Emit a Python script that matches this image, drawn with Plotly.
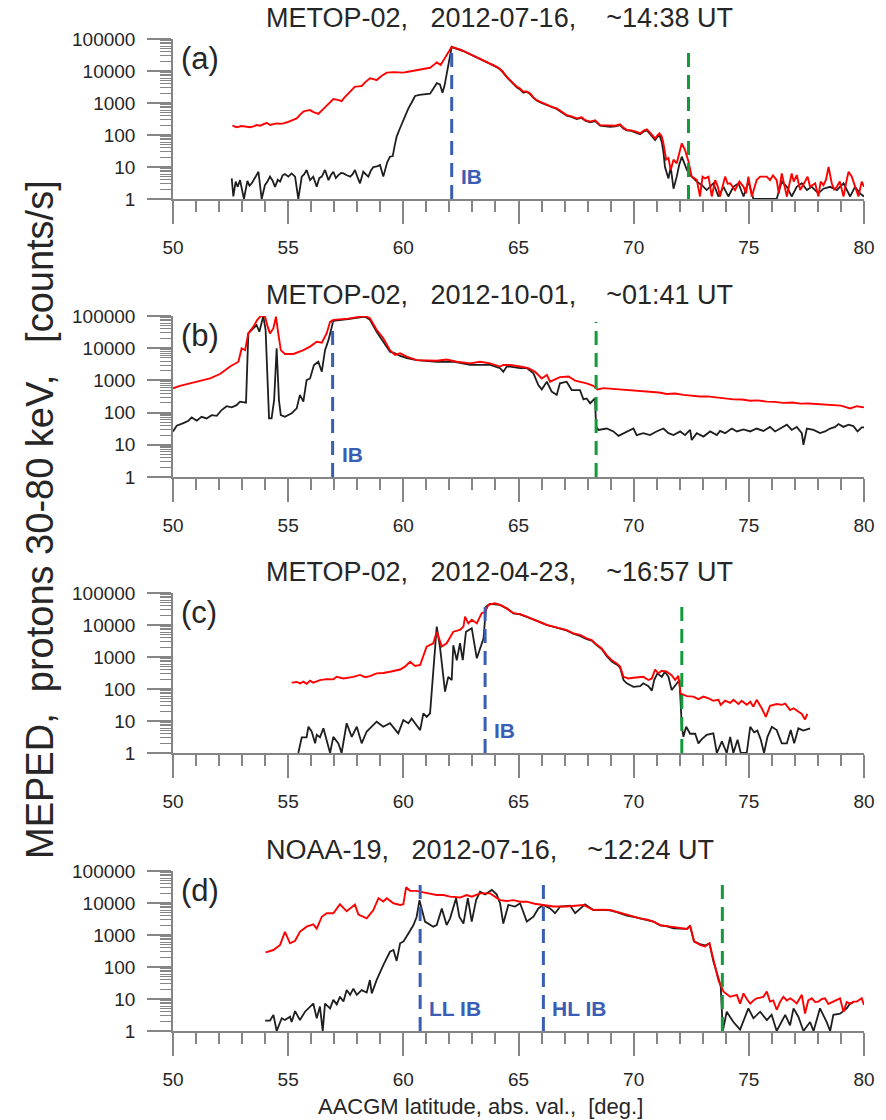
import plotly.graph_objects as go

# ---------------- Panel (a): METOP-02, 2012-07-16, ~14:38 UT ----------------
a_red_lat = [52.58, 52.76, 52.98, 53.15, 53.34, 53.5, 53.63, 53.78, 53.92, 54.07, 54.21, 54.35, 54.5, 54.65, 54.79, 54.95,
             55.08, 55.22, 55.37, 55.5, 55.66, 55.8, 55.95, 56.1, 56.31, 56.5, 56.67, 56.8, 56.96, 57.15, 57.32, 57.45,
             57.61, 57.75, 57.9, 58.05, 58.19, 58.35, 58.55, 58.7, 58.84, 59.05, 59.28, 59.6, 60.0, 60.2, 60.44, 60.65,
             60.87, 61.0, 61.16, 61.3, 61.45, 61.62, 61.81, 61.95, 62.1,
             62.17, 62.3, 62.45, 62.6, 62.75, 62.9, 63.1, 63.33, 63.55, 63.77, 63.95, 64.13, 64.3, 64.5, 64.65, 64.78,
             64.92, 65.05, 65.21, 65.35, 65.5, 65.65, 65.79, 66.0, 66.23, 66.45, 66.66, 66.9, 67.09, 67.3, 67.53, 67.74,
             67.9, 68.11, 68.33, 68.54, 68.75, 68.98, 69.2, 69.41, 69.55, 69.7, 69.9, 70.13, 70.28, 70.45, 70.57, 70.7,
             70.79, 70.93, 71.02, 71.12, 71.22, 71.29, 71.41, 71.51, 71.61, 71.73, 71.87, 71.98, 72.09, 72.23, 72.38,
             72.52, 72.63, 72.74, 72.88, 72.99, 73.1, 73.25, 73.39, 73.54, 73.65, 73.75, 73.97, 74.08, 74.19, 74.4,
             74.59, 74.77, 74.88, 74.98, 75.13, 75.34, 75.49, 75.6, 75.78, 75.92, 76.05, 76.21, 76.3, 76.43, 76.65,
             76.86, 76.95, 77.08, 77.23, 77.44, 77.55, 77.66, 77.88, 78.02, 78.12, 78.24, 78.35, 78.46, 78.6, 78.7,
             78.82, 78.95, 79.11, 79.25, 79.33, 79.47, 79.61, 79.76, 79.9, 80.0]
a_red = [195, 175, 190, 180, 175, 185, 205, 195, 215, 240, 205, 220, 230, 225, 230, 250,
         275, 300, 330, 420, 540, 580, 600, 520, 460, 620, 810, 1050, 1320, 1250, 1150, 1500,
         2000, 2600, 3240, 3300, 3400, 4500, 5900, 5600, 5200, 7000, 8900, 9200, 8900, 9500, 10200, 10800,
         11500, 12000, 12600, 15000, 18600, 15500, 25000, 38000, 57000,
         55000, 52000, 47000, 42700, 38000, 33900, 29000, 25100, 21000, 17400, 14800, 12600, 9800, 6500, 5000, 4070,
         3240, 2900, 2240, 2300, 2000, 1500, 1230, 1050, 870, 760, 676, 520, 417, 380, 331, 355,
         290, 263, 290, 204, 200, 190, 195, 214, 170, 145, 140, 126, 112, 140, 151, 120,
         100, 78, 95, 112, 90, 55, 17, 19, 8, 17, 13, 30, 55, 34, 15,
         5, 4.5, 4, 1.2, 5, 4.4, 5, 1.2, 3.9, 2.5, 1.2, 5, 3, 3.1, 1.9,
         3.5, 2.4, 1.5, 5, 1.2, 3.9, 5, 5, 5, 3.9, 5.5, 3.9, 1.5, 6.3, 1.2,
         6.3, 3.5, 5.6, 1.9, 3.5, 5, 2.4, 3.1, 1.2, 3.5, 2.7, 4, 10, 3.1, 2,
         2.4, 3.5, 1.2, 4, 7.1, 5, 2.4, 1.2, 3.5, 2.4]

a_blk_lat = [52.55, 52.62, 52.72, 52.81, 52.91, 53.0, 53.08, 53.23, 53.32, 53.42, 53.55, 53.71, 53.85, 53.99, 54.1,
             54.21, 54.32, 54.43, 54.55, 54.65, 54.76, 54.86, 55.01, 55.15, 55.3, 55.44, 55.59, 55.7, 55.8, 55.95,
             56.09, 56.24, 56.35, 56.46, 56.6, 56.75, 56.85, 56.96, 57.07, 57.18, 57.3, 57.4, 57.55, 57.69, 57.8,
             57.9, 58.0, 58.12, 58.26, 58.38, 58.48, 58.6, 58.7, 58.85, 58.99, 59.13, 59.3, 59.42, 59.54, 59.62,
             59.71, 59.85, 60.0, 60.1, 60.22, 60.35, 60.51, 60.7, 60.87, 61.0, 61.16, 61.3, 61.45, 61.59, 61.7,
             61.79, 61.88, 62.0, 62.1,
             62.17, 62.3, 62.45, 62.6, 62.75, 62.9, 63.1, 63.33, 63.55, 63.77, 63.95, 64.13, 64.3, 64.5, 64.65,
             64.78, 64.92, 65.05, 65.21, 65.35, 65.5, 65.65, 65.79, 66.0, 66.23, 66.45, 66.66, 66.9, 67.09, 67.3,
             67.53, 67.74, 67.9, 68.11, 68.33, 68.54, 68.75, 68.98, 69.2, 69.41, 69.55, 69.7, 69.9, 70.13, 70.28,
             70.45, 70.57, 70.7, 70.79, 70.93, 71.02, 71.12, 71.22, 71.29, 71.36, 71.45, 71.51, 71.61, 71.73, 71.87,
             71.98, 72.09, 72.2, 72.31, 72.42, 72.52, 72.74, 72.96, 73.17, 73.46, 73.68, 73.9, 74.11, 74.33, 74.55,
             74.77, 74.98, 75.2, 75.5, 75.8, 76.21, 76.43, 76.65, 76.86, 77.08, 77.3, 77.52, 77.73, 78.02, 78.24,
             78.53, 78.82, 79.11, 79.4, 79.61, 79.83, 80.0]
a_blk = [4.4, 1.2, 3.5, 2.4, 3.9, 2, 1, 3.7, 2.6, 3.1, 4.5, 7.1, 1, 2.7, 3.5,
         5, 3.8, 2.4, 4, 3.5, 5.5, 6, 5, 6.3, 5, 1, 5, 6, 8.1, 3.9,
         5, 2.4, 4.5, 5, 8.1, 3.9, 5.5, 7.1, 4.5, 5.6, 6.5, 6.3, 5.5, 5, 6,
         8.1, 5, 3.1, 7.1, 6, 5, 8, 10, 10.5, 11.5, 5, 14, 21, 22, 45,
         89, 160, 295, 450, 680, 1000, 1660, 1800, 1860, 1850, 1950, 2800, 4170, 3800, 2090,
         3500, 8500, 25000, 57000,
         54000, 51000, 46000, 42000, 37500, 33000, 28500, 24500, 20500, 17000, 14500, 12300, 9500, 6300, 4800,
         3900, 3100, 2700, 2100, 2250, 1900, 1450, 1200, 1000, 850, 730, 650, 500, 400, 370,
         315, 340, 280, 250, 270, 195, 190, 180, 185, 205, 160, 140, 135, 118, 105,
         130, 140, 110, 90, 70, 85, 100, 60, 30, 10, 6, 4.4, 10, 2.1, 5,
         12, 21, 12, 8.1, 6, 5, 3.5, 2.7, 1.9, 3.1, 1.2, 2.4, 1.2, 2.4, 3.1,
         1.2, 3.5, 1, 1, 1, 1, 3.5, 2.4, 1.2, 2.4, 3.1, 1.9, 2.4, 1.5, 2.1,
         2.4, 1.9, 3.1, 1.2, 2.4, 1.5, 1.2]

# ---------------- Panel (b): METOP-02, 2012-10-01, ~01:41 UT ----------------
b_red_lat = [50.0, 50.3, 50.74, 51.17, 51.61, 52.04, 52.48, 52.84, 52.98, 53.13, 53.27, 53.49, 53.66, 53.81, 53.99,
             54.11, 54.21, 54.36, 54.47, 54.57, 54.68, 54.86, 55.23, 55.66, 55.95, 56.24, 56.46, 56.67, 56.82, 56.96,
             57.6, 58.34, 58.55, 58.84, 59.13, 59.42, 59.64, 59.86, 60.15, 60.58, 61.02, 61.45, 61.88, 62.32, 62.9,
             63.33, 63.77, 64.2, 64.34, 64.63, 65.07, 65.43, 65.72, 66.01, 66.23, 66.37, 66.8, 67.17, 67.46, 67.96,
             68.25, 68.43, 68.69, 69.0, 69.27, 69.6, 69.99, 70.4, 70.71, 71.1, 71.44, 71.8, 72.16, 72.5, 72.88,
             73.2, 73.61, 74.0, 74.33, 74.7, 75.06, 75.4, 75.78, 76.1, 76.5, 76.9, 77.23, 77.6, 77.95, 78.3,
             78.67, 79.0, 79.4, 79.69, 80.0]
b_red = [565, 680, 810, 980, 1150, 1580, 2700, 3800, 9800, 8700, 28800, 46800, 75900, 100000, 100000,
         46800, 28800, 41700, 95500, 28800, 8700, 6600, 6600, 8700, 11200, 15800, 14800, 28800, 66100, 75900,
         83000, 100000, 85000, 37200, 20400, 8700, 6170, 6900, 5500, 4270, 4270, 4070, 4470, 3800, 3390,
         3800, 3390, 2690, 3020, 3020, 2690, 2400, 1860, 1150, 1480, 910, 1260, 1320, 980, 810,
         680, 525, 575, 550, 525, 500, 480, 470, 450, 420, 380, 390, 355, 340, 316,
         320, 295, 285, 257, 255, 234, 240, 219, 215, 200, 205, 190, 192, 186, 180,
         174, 165, 135, 158, 145]

b_blk_lat = [50.0, 50.16, 50.45, 50.67, 50.81, 51.03, 51.24, 51.46, 51.68, 51.9, 52.11, 52.33, 52.55, 52.76, 52.91,
             53.17, 53.27, 53.49, 53.63, 53.75, 53.92, 54.02, 54.17, 54.28, 54.39, 54.5, 54.6, 54.68, 54.86, 55.15,
             55.37, 55.51, 55.66, 55.8, 55.95, 56.12, 56.31, 56.46, 56.6, 56.75, 56.96, 57.6, 58.34, 58.55, 58.84,
             59.13, 59.42, 59.64, 59.86, 60.15, 60.58, 61.45, 62.17, 62.9, 63.77, 64.2, 64.34, 64.49, 64.63, 65.07,
             65.36, 65.65, 65.86, 66.01, 66.23, 66.44, 66.66, 66.8, 67.09, 67.31, 67.67, 67.82, 67.96, 68.11, 68.32,
             68.37, 68.47, 68.83, 69.12, 69.34, 69.56, 69.77, 69.99, 70.13, 70.42, 70.71, 70.99, 71.29, 71.51, 71.73,
             72.02, 72.23, 72.45, 72.52, 72.74, 73.03, 73.32, 73.61, 73.75, 73.97, 74.26, 74.48, 74.77, 75.06, 75.34,
             75.63, 75.92, 76.14, 76.36, 76.65, 76.86, 77.08, 77.3, 77.37, 77.52, 77.81, 78.09, 78.31, 78.53, 78.75,
             78.89, 79.11, 79.33, 79.54, 79.72, 79.9, 80.0]
b_blk = [26, 39, 47, 56, 71, 56, 74, 66, 83, 79, 120, 158, 145, 170, 219,
         204, 28800, 41700, 52500, 32400, 100000, 37200, 66, 66, 245, 10000, 245, 83, 74, 95,
         135, 355, 219, 1020, 1150, 3020, 3800, 1860, 8700, 17800, 70800, 80000, 95000, 75900, 32400,
         15800, 7760, 6900, 5750, 4900, 4270, 3800, 3800, 3020, 3020, 2400, 1860, 2690, 2690, 2400,
         2400, 1660, 720, 525, 910, 450, 355, 810, 910, 500, 500, 257, 275, 195, 275,
         36, 29, 32, 26, 19, 23, 26, 32, 20, 23, 20, 26, 32, 23, 20,
         26, 20, 29, 14, 23, 18, 26, 20, 27, 23, 32, 26, 30, 26, 32,
         27, 36, 26, 32, 42, 29, 36, 23, 10, 32, 29, 23, 26, 32, 36,
         44, 36, 42, 38, 26, 35, 35]

# ---------------- Panel (c): METOP-02, 2012-04-23, ~16:57 UT ----------------
c_red_lat = [55.15, 55.37, 55.52, 55.66, 55.8, 55.95, 56.09, 56.38, 56.67, 56.96, 57.11, 57.4, 57.83, 58.12, 58.34,
             58.55, 58.84, 59.13, 59.42, 59.86, 60.07, 60.29, 60.51, 60.73, 61.01, 61.3, 61.45, 61.67, 61.88, 62.17,
             62.46, 62.61, 62.68, 62.82, 62.97, 63.19, 63.4, 63.55, 63.69, 63.98, 64.2, 64.49, 64.78, 65.07, 65.36,
             65.65, 65.94, 66.23, 66.52, 66.81, 67.09, 67.38, 67.67, 67.96, 68.18, 68.4, 68.61, 68.83, 69.05, 69.27,
             69.41, 69.56, 69.77, 69.99, 70.28, 70.42, 70.64, 70.79, 70.93, 71.07, 71.22, 71.44, 71.65, 71.8, 71.94,
             72.04, 72.31, 72.59, 72.81, 73.03, 73.25, 73.46, 73.68, 73.78, 73.97, 74.19, 74.33, 74.55, 74.69, 74.91,
             75.06, 75.2, 75.34, 75.56, 75.74, 75.92, 76.21, 76.43, 76.58, 76.79, 76.94, 77.15, 77.3, 77.44, 77.54]
c_red = [158, 166, 150, 170, 145, 182, 158, 190, 204, 200, 240, 214, 240, 275, 234,
         251, 309, 316, 347, 407, 500, 708, 525, 562, 2090, 2690, 6170, 2140, 2690, 6170,
         7080, 8900, 18200, 11200, 14500, 11200, 23400, 25100, 42700, 47900, 42700, 33100, 23400, 21900, 18200,
         15100, 12600, 10000, 8900, 7940, 6900, 5500, 4900, 3800, 3390, 2400, 1860, 1150, 794, 631,
         500, 240, 214, 224, 229, 240, 191, 214, 407, 309, 372, 347, 269, 191, 257,
         72, 60, 58, 48, 58, 51, 43, 46, 32, 43, 37, 46, 34, 43, 32,
         40, 28, 46, 25, 13.5, 30, 34, 32, 35, 22, 25, 19.5, 16.6, 11.2, 16.6]

c_blk_lat = [55.44, 55.59, 55.8, 55.88, 56.02, 56.17, 56.24, 56.38, 56.53, 56.67, 56.82, 56.96, 57.18, 57.32, 57.54,
             57.76, 57.98, 58.19, 58.41, 58.55, 58.84, 59.13, 59.42, 59.78, 60.0, 60.22, 60.36, 60.51, 60.73, 60.87,
             61.01, 61.16, 61.3, 61.45, 61.59, 61.81, 61.95, 62.1, 62.17, 62.32, 62.46, 62.58, 62.72, 62.97, 63.19,
             63.4, 63.48, 63.59, 63.76, 64.2, 64.49, 64.78, 65.07, 65.36, 65.65, 65.94, 66.23, 66.52, 66.81, 67.09,
             67.38, 67.67, 67.96, 68.18, 68.4, 68.61, 68.83, 69.05, 69.27, 69.41, 69.56, 69.7, 69.99, 70.28, 70.42,
             70.64, 70.79, 70.89, 71.03, 71.22, 71.36, 71.51, 71.65, 71.87, 71.99, 72.09, 72.16, 72.28, 72.45, 72.67,
             72.81, 72.96, 73.17, 73.46, 73.61, 73.83, 74.04, 74.19, 74.33, 74.51, 74.65, 74.91, 75.06, 75.23, 75.37,
             75.52, 75.66, 75.81, 76.0, 76.21, 76.43, 76.65, 76.82, 76.97, 77.15, 77.37, 77.66]
c_blk = [1, 3.1, 3.1, 6.6, 4.7, 2, 3.7, 3.1, 5.9, 2.6, 1, 3.2, 2, 1, 8.5,
         3.2, 6.6, 2, 4.7, 5.9, 9.5, 6.6, 8.5, 4.1, 10.7, 8.5, 12, 8.5, 5.2, 17.4,
         13.5, 17.4, 500, 8900, 2090, 83, 240, 191, 2340, 794, 2690, 794, 6170, 7940, 912,
         2690, 3800, 37200, 45700, 42700, 33100, 22900, 21400, 17800, 15100, 12300, 10000, 8700, 7760, 6760,
         5370, 4570, 3630, 3240, 2340, 1780, 1070, 724, 575, 468, 191, 151, 117, 123, 151,
         123, 89, 191, 309, 240, 347, 240, 93, 151, 191, 6.6, 3.2, 6.6, 4, 4,
         2, 2.7, 3.7, 4.1, 1, 2.3, 1, 3.2, 1, 2.6, 1, 1, 6.6, 4.4, 5,
         2.6, 1, 3.2, 6.6, 5.2, 2, 2, 5.2, 2, 5.9, 5, 5.9]

# ---------------- Panel (d): NOAA-19, 2012-07-16, ~12:24 UT ----------------
d_red_lat = [54.02, 54.36, 54.65, 54.86, 55.08, 55.3, 55.51, 55.8, 56.09, 56.24, 56.46, 56.67, 56.96, 57.25, 57.54,
             57.9, 58.05, 58.41, 58.7, 58.92, 59.13, 59.28, 59.57, 59.86, 60.0, 60.12, 60.29, 60.58, 60.87, 61.16,
             61.45, 61.74, 62.03, 62.46, 62.75, 62.97, 63.33, 63.77, 64.05, 64.2, 64.49, 64.78, 65.07, 65.36, 65.7,
             66.08, 66.52, 67.09, 67.5, 67.82, 68.25, 68.6, 68.98, 69.3, 69.7, 70.0, 70.28, 70.6, 70.86, 71.15,
             71.45, 71.73, 72.0, 72.31, 72.45, 72.62, 72.88, 73.1, 73.29, 73.46, 73.68, 73.9, 74.19, 74.33, 74.48,
             74.62, 74.77, 74.91, 75.06, 75.2, 75.34, 75.49, 75.63, 75.78, 75.92, 76.06, 76.21, 76.35, 76.5, 76.65,
             76.79, 76.94, 77.08, 77.3, 77.44, 77.58, 77.73, 77.88, 78.02, 78.17, 78.31, 78.45, 78.67, 78.82, 78.96,
             79.11, 79.25, 79.4, 79.55, 79.69, 79.9, 80.0]
d_red = [288, 339, 490, 1260, 550, 660, 1260, 1820, 2140, 1580, 3720, 4790, 4790, 9120, 5500,
         8900, 4370, 3310, 6030, 14100, 11200, 14100, 9800, 8700, 9120, 30900, 24000, 24000, 21400, 19100,
         17800, 17800, 15800, 14800, 17800, 15800, 20000, 20000, 14800, 12300, 11500, 12300, 11000, 11000, 9500,
         8700, 7760, 7760, 8300, 8700, 6030, 6200, 6030, 5200, 4270, 3800, 3310, 3000, 2630, 2040,
         1900, 1700, 1650, 1550, 1950, 646, 490, 437, 550, 166, 39, 17, 11.7, 12.5, 13.5,
         7.2, 15, 10, 7.2, 9, 10.5, 11, 11.7, 17, 8.3, 9, 4.6, 8, 11.7, 9,
         10.5, 9, 7.2, 13.5, 3.5, 9, 10.5, 8, 8.3, 10, 10.5, 7, 8.3, 9, 10.5,
         4, 8, 7.2, 8.3, 8.3, 10.5, 6.5]

d_blk_lat = [54.0, 54.21, 54.36, 54.5, 54.72, 54.86, 55.08, 55.15, 55.3, 55.51, 55.73, 55.95, 56.09, 56.24, 56.38,
             56.5, 56.6, 56.82, 56.96, 57.11, 57.25, 57.4, 57.54, 57.69, 57.83, 57.98, 58.19, 58.41, 58.55, 58.63,
             58.84, 59.13, 59.42, 59.57, 59.71, 59.86, 60.0, 60.22, 60.44, 60.58, 60.7, 60.94, 61.3, 61.45, 61.67,
             61.88, 62.03, 62.29, 62.43, 62.61, 62.8, 62.97, 63.16, 63.33, 63.55, 63.84, 64.05, 64.2, 64.34, 64.56,
             64.85, 65.07, 65.36, 65.65, 65.86, 66.08, 66.37, 66.59, 66.81, 67.24, 67.46, 67.89, 68.25, 68.6, 68.98,
             69.3, 69.7, 70.0, 70.28, 70.6, 70.86, 71.15, 71.45, 71.73, 72.0, 72.31, 72.45, 72.62, 72.88, 73.1,
             73.29, 73.46, 73.68, 73.78, 73.87, 74.04, 74.33, 74.62, 74.98, 75.2, 75.49, 75.78, 75.99, 76.21, 76.58,
             76.79, 76.94, 77.15, 77.37, 77.66, 77.81, 78.09, 78.38, 78.53, 78.67, 78.96, 79.25, 79.4, 79.55]
d_blk = [2.1, 2.1, 3.2, 1, 2.5, 2.2, 2.8, 1.9, 4.2, 2.2, 4, 5.8, 7.2, 2.5, 5.8,
         1, 7.2, 5.1, 9.4, 6.8, 11.8, 8.3, 19, 13.5, 21, 13.5, 19, 16, 39, 15,
         39, 115, 300, 340, 155, 550, 620, 1120, 2040, 3720, 12300, 2630, 1820, 2040, 6760,
         2040, 3310, 14100, 3720, 2290, 14100, 2630, 12300, 22400, 18600, 25700, 18600, 9800, 2290, 8700,
         7760, 9800, 2630, 3720, 6760, 8700, 6760, 4790, 7760, 8300, 4790, 9100, 6000, 6100, 5900,
         5100, 4000, 3700, 3310, 2900, 2630, 2000, 1850, 1600, 1600, 1550, 1900, 620, 520, 470,
         550, 150, 45, 24.5, 1, 4, 1.9, 1.1, 5.1, 2.5, 4, 2.2, 3.2, 1, 3.2,
         1.5, 5.1, 2.8, 1, 1.9, 1, 5.1, 1.9, 1, 3.2, 3.5, 5.1, 7.2, 7.9]

# Boundary latitudes (dashed lines)
ib_lat = {"a": [62.1], "b": [56.93], "c": [63.55], "d": [60.73, 66.08]}
ib_text = {"a": ["IB"], "b": ["IB"], "c": ["IB"], "d": ["LL IB", "HL IB"]}
green_lat = {"a": 72.38, "b": 68.37, "c": 72.09, "d": 73.85}
dash_top = 65000

titles = ["METOP-02,\u00a0\u00a0 2012-07-16,\u00a0\u00a0\u00a0 ~14:38 UT",
          "METOP-02,\u00a0\u00a0 2012-10-01,\u00a0\u00a0\u00a0 ~01:41 UT",
          "METOP-02,\u00a0\u00a0 2012-04-23,\u00a0\u00a0\u00a0 ~16:57 UT",
          "NOAA-19,\u00a0\u00a0 2012-07-16,\u00a0\u00a0\u00a0 ~12:24 UT"]
panel_labels = ["(a)", "(b)", "(c)", "(d)"]
x_ticks = [50, 55, 60, 65, 70, 75, 80]
y_ticks = [1, 10, 100, 1000, 10000, 100000]
y_ticktext = ["1", "10", "100", "1000", "10000", "100000"]

series = {
    "a": (a_red_lat, a_red, a_blk_lat, a_blk),
    "b": (b_red_lat, b_red, b_blk_lat, b_blk),
    "c": (c_red_lat, c_red, c_blk_lat, c_blk),
    "d": (d_red_lat, d_red, d_blk_lat, d_blk),
}

RED = "#ff0000"
BLACK = "#1e1e1e"
BLUE = "#3a5db5"
GREEN = "#139a3c"
AXC = "#858585"
TXT = "#262626"
FONT = "Liberation Sans, Arial, Helvetica, sans-serif"

# pixel layout: plot area x 173..864, panels' y (top,bottom)
W, H = 886, 1120
L, R, T, B = 173, 22, 39, 89
panel_px = [(39, 199), (316, 477), (593, 753), (871, 1031)]
plot_h = H - T - B


def py2paper(py):
    return (H - B - py) / plot_h


def px2paper(px):
    return (px - L) / (W - L - R)


fig = go.Figure()
minor_y = [m * 10 ** k for k in range(5) for m in range(2, 10)]
keys = ["a", "b", "c", "d"]
for i, k in enumerate(keys):
    n = i + 1
    xa = "x" if n == 1 else f"x{n}"
    ya = "y" if n == 1 else f"y{n}"
    rl, rv, bl, bv = series[k]
    fig.add_trace(go.Scatter(x=bl, y=bv, mode="lines", line=dict(color=BLACK, width=1.8),
                             xaxis=xa, yaxis=ya, showlegend=False))
    fig.add_trace(go.Scatter(x=rl, y=rv, mode="lines", line=dict(color=RED, width=1.9),
                             xaxis=xa, yaxis=ya, showlegend=False))
    for lat in ib_lat[k]:
        fig.add_trace(go.Scatter(x=[lat, lat], y=[1, dash_top], mode="lines",
                                 line=dict(color=BLUE, width=3, dash="14px,8px"),
                                 xaxis=xa, yaxis=ya, showlegend=False))
    g = green_lat[k]
    fig.add_trace(go.Scatter(x=[g, g], y=[1, dash_top], mode="lines",
                             line=dict(color=GREEN, width=3, dash="14px,8px"),
                             xaxis=xa, yaxis=ya, showlegend=False))

    top, bot = panel_px[i]
    axis_common = dict(showgrid=False, zeroline=False, showline=True, linecolor=AXC, linewidth=1.5,
                       ticks="outside", tickcolor=AXC, tickwidth=1.5,
                       tickfont=dict(family=FONT, size=19, color=TXT))
    fig.update_layout(**{
        ("xaxis" if n == 1 else f"xaxis{n}"): dict(
            domain=[0, 1], anchor=ya, range=[50, 80], tickvals=x_ticks, ticklen=23,
            ticklabelstandoff=7,
            minor=dict(ticks="outside", ticklen=11, dtick=1, tickcolor=AXC, tickwidth=1.5),
            **axis_common),
        ("yaxis" if n == 1 else f"yaxis{n}"): dict(
            domain=[py2paper(bot), py2paper(top)], anchor=xa, type="log", range=[0, 5],
            tickvals=y_ticks, ticktext=y_ticktext, ticklen=24, ticklabelstandoff=8,
            minor=dict(ticks="outside", ticklen=11, tickvals=minor_y, tickcolor=AXC, tickwidth=1.2),
            **axis_common),
    })
    # title
    fig.add_annotation(text=titles[i], xref="paper", yref="paper", x=px2paper(499 if k != "d" else 490),
                       y=py2paper(top - 21), showarrow=False, xanchor="center", yanchor="middle",
                       font=dict(family=FONT, size=27, color=TXT))
    # panel letter
    fig.add_annotation(text=panel_labels[i], xref=f"{xa} domain", yref=f"{ya} domain", x=0.008, y=0.88,
                       showarrow=False, xanchor="left", yanchor="middle",
                       font=dict(family=FONT, size=31, color=TXT))
    # IB labels
    for lat, txt in zip(ib_lat[k], ib_text[k]):
        fig.add_annotation(text=f"<b>{txt}</b>", xref=xa, yref=f"{ya} domain", x=lat + 0.3, y=0.14,
                           showarrow=False, xanchor="left", yanchor="middle",
                           font=dict(family=FONT, size=21, color=BLUE))

# global axis titles
fig.add_annotation(text="MEPED,\u00a0 protons 30-80 keV,\u00a0\u00a0 [counts/s]", xref="paper", yref="paper",
                   x=px2paper(40), y=py2paper(520), textangle=-90, showarrow=False,
                   xanchor="center", yanchor="middle", font=dict(family=FONT, size=38, color=TXT))
fig.add_annotation(text="AACGM latitude, abs. val.,\u00a0 [deg.]", xref="paper", yref="paper",
                   x=px2paper(480), y=py2paper(1106), showarrow=False,
                   xanchor="center", yanchor="middle", font=dict(family=FONT, size=22, color=TXT))

fig.update_layout(width=W, height=H, margin=dict(l=L, r=R, t=T, b=B),
                  paper_bgcolor="white", plot_bgcolor="white", showlegend=False)

fig.write_html("out.html")
